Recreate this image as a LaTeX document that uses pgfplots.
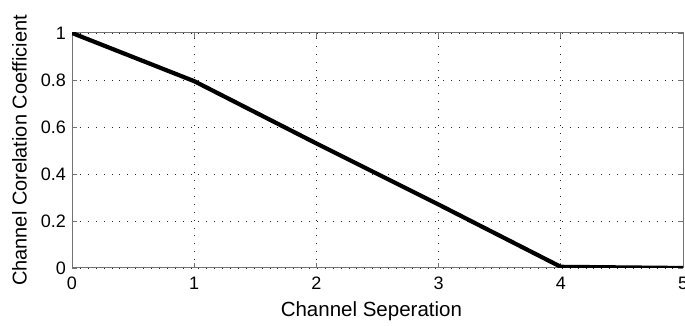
\documentclass[border=0pt]{standalone}
\usepackage{pgfplots}
\pgfplotsset{compat=1.18}
\usepackage{fontspec}
\setmainfont{Liberation Sans}
\begin{document}
\begin{tikzpicture}
\begin{axis}[
  at={(72pt,58pt)}, anchor=south west,
  scale only axis,
  width=611pt, height=235pt,
  xmin=0, xmax=5, ymin=0, ymax=1,
  xtick={0,1,2,3,4,5},
  ytick={0,0.2,0.4,0.6,0.8,1},
  yticklabels={0,0.2,0.4,0.6,0.8,1},
  xticklabels={0,1,2,3,4,5},
  tick label style={font=\fontsize{18}{20}\selectfont},
  /pgf/number format/assume math mode=true,
  xmajorgrids, ymajorgrids,
  grid style={black!85, line width=0.9pt, dash pattern=on 0.9pt off 7pt},
  axis line style={black!55, line width=1pt},
  tick style={black!55, line width=0.8pt},
  major tick length=5pt,
  tick align=inside,
  xlabel={Channel Seperation},
  ylabel={Channel Corelation Coefficient},
  every axis x label/.style={at={(axis description cs:0.49,-0.207)}, anchor=base, font=\fontsize{20.5}{22}\selectfont},
  every axis y label/.style={at={(axis description cs:-0.086,0.5)}, rotate=90, anchor=center, font=\fontsize{20}{22}\selectfont},
  yticklabel style={anchor=east, inner sep=0pt, xshift=-6pt},
  xticklabel style={anchor=north, inner sep=0pt, yshift=-9pt},
]
\addplot[black, line width=4.2pt, line join=round] coordinates {
  (0,1) (1,0.795) (2,0.53) (3,0.27) (4,0.005) (5,0.0)
};
\end{axis}
\pgfresetboundingbox
\useasboundingbox (0,0) rectangle (685pt,326pt);
\end{tikzpicture}
\end{document}
